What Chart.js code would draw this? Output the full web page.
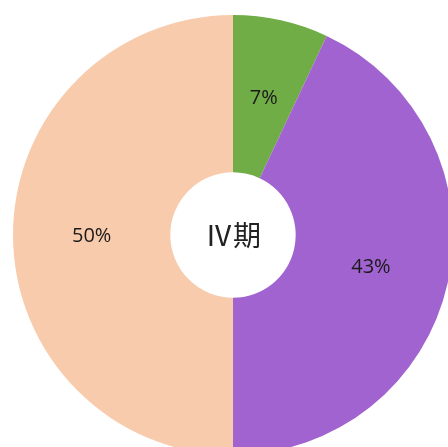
<!DOCTYPE html>
<html>
<head>
<meta charset="utf-8">
<script src="https://cdn.jsdelivr.net/npm/chart.js@4"></script>
<style>
  html, body { margin: 0; padding: 0; background: #fff; overflow: hidden; width: 448px; height: 447px; }
  #chart { position: absolute; left: 13px; top: 15px; }
</style>
</head>
<body>
<canvas id="chart" width="440" height="440"></canvas>
<script>
const categories = ['A', 'B', 'C'];
const values = [7, 43, 50];
const colors = ['#70AD47', '#A163CF', '#F8CBAD'];
const centerText = 'Ⅳ期';

const sliceLabels = {
  id: 'sliceLabels',
  afterDatasetsDraw(chart) {
    const ctx = chart.ctx;
    const meta = chart.getDatasetMeta(0);
    const total = values.reduce((a, b) => a + b, 0);
    ctx.save();
    ctx.fillStyle = '#1a1a1a';
    ctx.font = '20px "Open Sans", sans-serif';
    ctx.textAlign = 'center';
    ctx.textBaseline = 'middle';
    meta.data.forEach((arc, i) => {
      const p = arc.tooltipPosition();
      ctx.fillText(Math.round(values[i] / total * 100) + '%', p.x, p.y + 1);
    });
    // center text
    const a = meta.data[0];
    ctx.font = '28px "Noto Sans CJK JP", sans-serif';
    ctx.fillStyle = '#222';
    ctx.fillText(centerText, a.x, a.y);
    ctx.restore();
  }
};

new Chart(document.getElementById('chart').getContext('2d'), {
  type: 'doughnut',
  data: {
    labels: categories,
    datasets: [{
      data: values,
      backgroundColor: colors,
      borderWidth: 0
    }]
  },
  options: {
    responsive: false,
    animation: false,
    cutout: '28.5%',
    layout: { padding: 0 },
    plugins: {
      legend: { display: false },
      tooltip: { enabled: false }
    }
  },
  plugins: [sliceLabels]
});
</script>
</body>
</html>
